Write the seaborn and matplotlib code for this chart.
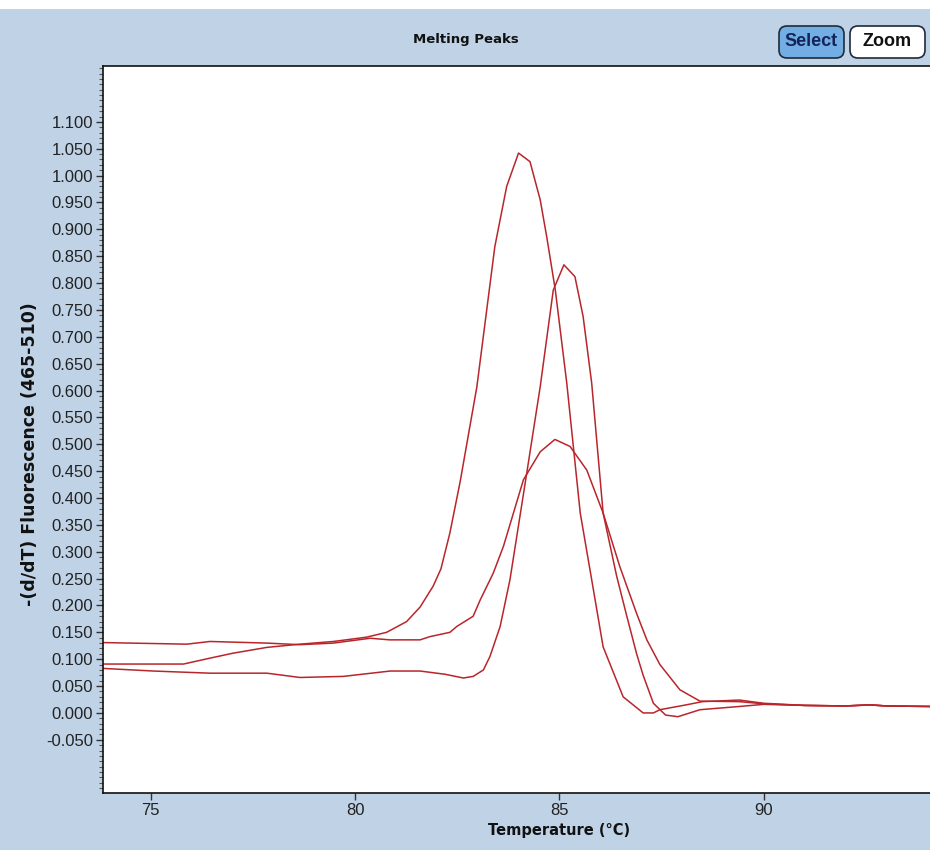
import numpy as np
import pandas as pd
import seaborn as sns
import matplotlib.pyplot as plt
from matplotlib.patches import Rectangle, FancyBboxPatch
from matplotlib.transforms import IdentityTransform
from matplotlib.ticker import MultipleLocator, FormatStrFormatter

# melting curves: temperature (C) and -(d/dT) fluorescence
temp_a = [73.8, 74.5, 75.8, 76.45, 77.0, 77.84, 78.65, 79.47, 80.28, 80.77, 81.26, 81.59, 81.91, 82.1,
          82.32, 82.57, 82.98, 83.42, 83.71, 84.0, 84.28, 84.53, 84.69, 84.9, 85.18, 85.51, 85.79, 86.07,
          86.56, 87.05, 87.3, 87.46, 88.1, 88.5, 89.4, 90.0, 91.0, 92.0, 92.6, 93.0, 94.1]
peak_a = [0.091, 0.091, 0.091, 0.102, 0.111, 0.122, 0.128, 0.133, 0.141, 0.150, 0.170, 0.197, 0.236, 0.268,
          0.335, 0.43, 0.607, 0.868, 0.98, 1.042, 1.026, 0.955, 0.886, 0.787, 0.614, 0.372, 0.248, 0.123,
          0.030, 0.0, 0.0, 0.006, 0.015, 0.021, 0.024, 0.018, 0.014, 0.013, 0.015, 0.013, 0.012]

temp_b = [73.8, 75.06, 76.45, 77.84, 78.65, 79.71, 80.86, 81.59, 82.2, 82.65, 82.89, 83.14, 83.3, 83.55,
          83.79, 84.2, 84.53, 84.85, 85.11, 85.38, 85.58, 85.79, 86.07, 86.4, 86.65, 86.89, 87.05, 87.3,
          87.6, 87.9, 88.44, 89.4, 90.0, 91.0, 92.0, 92.6, 93.0, 94.1]
peak_b = [0.083, 0.078, 0.074, 0.074, 0.066, 0.068, 0.078, 0.078, 0.072, 0.065, 0.068, 0.08, 0.105, 0.161,
          0.248, 0.446, 0.607, 0.787, 0.834, 0.812, 0.738, 0.614, 0.372, 0.255, 0.18, 0.11, 0.07, 0.018,
          -0.004, -0.007, 0.006, 0.012, 0.016, 0.014, 0.013, 0.015, 0.013, 0.012]

temp_c = [73.8, 75.88, 76.45, 77.84, 78.65, 79.47, 80.37, 80.85, 81.59, 81.83, 82.32, 82.49, 82.89, 83.06,
          83.38, 83.63, 84.12, 84.53, 84.89, 85.26, 85.67, 86.07, 86.48, 86.89, 87.14, 87.46, 87.95, 88.44,
          89.4, 90.0, 91.0, 92.0, 92.6, 93.0, 94.1]
peak_c = [0.131, 0.128, 0.133, 0.130, 0.127, 0.130, 0.139, 0.136, 0.136, 0.142, 0.150, 0.161, 0.180, 0.21,
          0.26, 0.31, 0.434, 0.486, 0.509, 0.496, 0.452, 0.372, 0.272, 0.185, 0.136, 0.09, 0.043, 0.022,
          0.021, 0.017, 0.014, 0.013, 0.015, 0.013, 0.012]

ytick_vals = [i / 1000 for i in range(-50, 1101, 50)]
xtick_vals = [75, 80, 85, 90]

sns.set_style('white')
plt.rcParams['font.family'] = ['Liberation Sans', 'DejaVu Sans']

W, H = 930, 850
fig = plt.figure(figsize=(W / 100, H / 100), dpi=100)
fig.patch.set_facecolor('white')
fig.patches.append(Rectangle((0, 0), 1, (H - 9) / H, transform=fig.transFigure,
                             facecolor='#c0d3e6', edgecolor='none', zorder=-5))

ax = fig.add_axes([103 / W, 57 / H, 1 - 103 / W, 727 / H])
ax.set_facecolor('white')

line_col = '#b8262b'
for t, v in [(temp_a, peak_a), (temp_b, peak_b), (temp_c, peak_c)]:
    sns.lineplot(x=t, y=v, ax=ax, color=line_col, linewidth=1.1, sort=False, estimator=None)

ax.set_xlim(73.83, 94.07)
ax.set_ylim(-0.149, 1.204)
ax.set_xticks(xtick_vals)
ax.set_yticks(ytick_vals)
ax.yaxis.set_major_formatter(FormatStrFormatter('%.3f'))
ax.yaxis.set_minor_locator(MultipleLocator(0.01))
ax.tick_params(axis='both', which='major', direction='out', length=5, width=1,
               color='#333333', labelsize=12, labelcolor='#222222', pad=2,
               left=True, bottom=True)
ax.tick_params(axis='y', which='minor', direction='out', length=3, width=0.8,
               color='#555555', left=True)
ax.set_xlabel('')
ax.set_ylabel('')
for side in ['left', 'bottom', 'top']:
    ax.spines[side].set_color('#111111')
    ax.spines[side].set_linewidth(1.2)
ax.spines['right'].set_visible(False)

fig.text(466 / W, 1 - 39 / H, 'Melting Peaks', ha='center', va='center',
         fontweight='bold', family='DejaVu Sans', fontsize=9.5, color='#111111')
fig.text(559 / W, 1 - 831 / H, 'Temperature (°C)', ha='center', va='center',
         fontweight='bold', family='DejaVu Sans', fontsize=10.5, color='#111111')
fig.text(30 / W, 1 - 454 / H, '-(d/dT) Fluorescence (465-510)', ha='center', va='center',
         rotation=90, fontweight='bold', family='DejaVu Sans', fontsize=12.5, color='#111111')

# Select / Zoom buttons (pixel coordinates)
buttons = [('Select', 779, 844, '#72aee3', '#14245a'), ('Zoom', 850, 925, 'white', '#111111')]
for label, x0, x1, fc, tc in buttons:
    y0, y1 = H - 58, H - 26
    fig.add_artist(FancyBboxPatch((x0, y0), x1 - x0, y1 - y0,
                                  boxstyle='round,pad=0,rounding_size=8',
                                  transform=IdentityTransform(), facecolor=fc,
                                  edgecolor='#1f2a3a', linewidth=1.2))
    fig.text((x0 + x1) / 2 / W, (y0 + y1) / 2 / H, label, ha='center', va='center',
             fontsize=13, fontweight='bold', color=tc)

fig.savefig('out.png', dpi=100)
